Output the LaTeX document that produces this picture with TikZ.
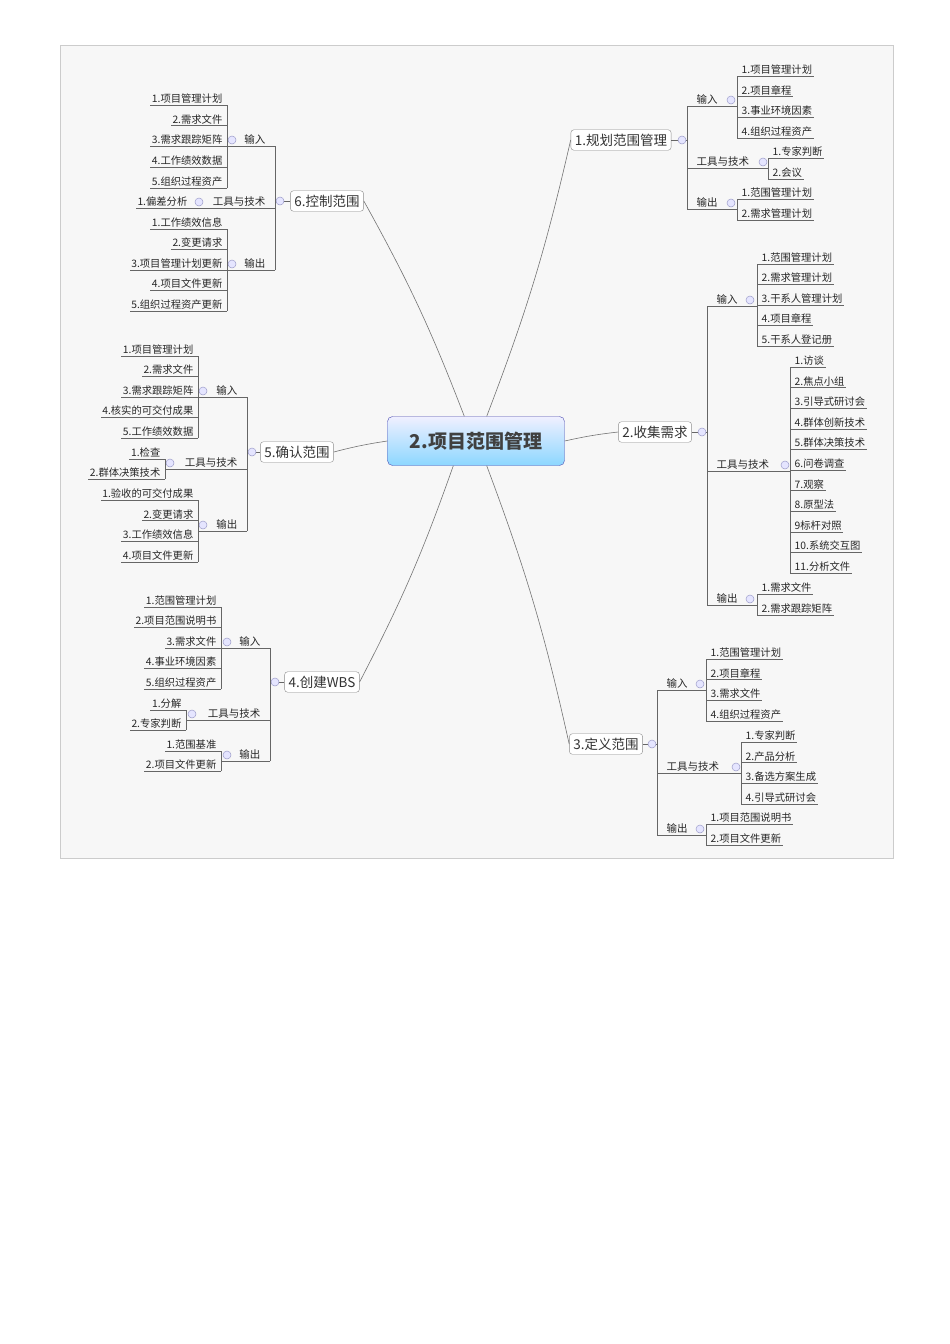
\documentclass[tikz,border=0pt]{standalone}
\usepackage{fontspec}
\setmainfont{Noto Sans CJK SC}
\usetikzlibrary{calc}
\tikzset{
 ln/.style={draw=black!60,line width=0.6pt},
 leaf/.style={inner sep=1.5pt,font=\fontsize{10.3}{11}\selectfont,text=black!85},
 grp/.style={inner sep=1.5pt,font=\fontsize{10.5}{11}\selectfont,text=black!85},
 tog/.style={circle,draw=blue!30!gray!60,fill=blue!10,minimum size=8pt,inner sep=0pt,line width=0.5pt},
 br/.style={draw=black!45,fill=white,rounded corners=3pt,font=\fontsize{13.5}{15}\selectfont,inner sep=4pt,text=black!80},
 con/.style={draw=black!55,line width=0.6pt}
}
\newcommand\leavesR[6]{%
 \draw[ln] (#2,#3+8)--(#2,{#3+(#5-1)*#4+8});
 \foreach \lbl [count=\i] in {#6}{
   \node[leaf,anchor=south west] (#1\i) at (#2+3,{#3+(\i-1)*#4+8}) {\lbl};
   \draw[ln] (#2,{#3+(\i-1)*#4+8}) -- (#1\i.south east);}}
\newcommand\leavesL[6]{%
 \draw[ln] (#2,#3+8)--(#2,{#3+(#5-1)*#4+8});
 \foreach \lbl [count=\i] in {#6}{
   \node[leaf,anchor=south east] (#1\i) at (#2-3,{#3+(\i-1)*#4+8}) {\lbl};
   \draw[ln] (#2,{#3+(\i-1)*#4+8}) -- (#1\i.south west);}}
\newcommand\groupR[6]{%
 \node[grp,anchor=south west] (#1) at (#2+8,#5+8) {#6};
 \draw[ln] (#2,#5+8) -- (#4,#5+8);
 \node[tog] (#1c) at (#3,#5+2) {};}
\newcommand\groupL[6]{%
 \node[grp,anchor=south east] (#1) at (#2-8,#5+8) {#6};
 \draw[ln] (#2,#5+8) -- (#4,#5+8);
 \node[tog] (#1c) at (#3,#5+2) {};}
\begin{document}
\begin{tikzpicture}[x=1pt,y=-1pt]
\useasboundingbox (0,0) rectangle (950,1344);
\fill[black!3,draw=black!20] (60,45) rectangle (893,858);
\node[draw=blue!40!gray,top color=blue!6,bottom color=blue!35!cyan!45,rounded corners=5pt,minimum width=177pt,minimum height=49pt,font=\fontsize{19}{21}\selectfont\bfseries,text=black!75] (c) at (476,441) {2.项目范围管理};
\node[br] (b1) at (621,140) {1.规划范围管理};
\node[br] (b2) at (655,432) {2.收集需求};
\node[br] (b3) at (606,744) {3.定义范围};
\node[br] (b4) at (322,682) {4.创建WBS};
\node[br] (b5) at (297,452) {5.确认范围};
\node[br] (b6) at (327,201) {6.控制范围};
\draw[con] ([xshift=-78pt]c.north east) to[bend right=4] (b1.west);
\draw[con] (c.east) to[bend left=3] (b2.west);
\draw[con] ([xshift=-78pt]c.south east) to[bend left=4] (b3.west);
\draw[con] ([xshift=66pt]c.south west) to[bend left=4] (b4.east);
\draw[con] (c.west) to[bend right=3] (b5.east);
\draw[con] ([xshift=77pt]c.north west) to[bend right=4] (b6.east);
% ---- branch 1
\draw[ln] (b1.east)--(687,140); \node[tog] (b1c) at (682,140) {};
\draw[ln] (687,106)--(687,209);
\groupR{g11}{687}{731}{737}{98}{输入}
\leavesR{l11}{737}{68}{20.7}{4}{1.项目管理计划,2.项目章程,3.事业环境因素,4.组织过程资产}
\groupR{g12}{687}{763}{768}{160}{工具与技术}
\leavesR{l12}{768}{150}{21}{2}{1.专家判断,2.会议}
\groupR{g13}{687}{731}{737}{201}{输出}
\leavesR{l13}{737}{191}{21}{2}{1.范围管理计划,2.需求管理计划}
% ---- branch 2
\draw[ln] (b2.east)--(707,432); \node[tog] (b2c) at (702,432) {};
\draw[ln] (707,306)--(707,605);
\groupR{g21}{707}{750}{757}{298}{输入}
\leavesR{l21}{757}{256}{20.5}{5}{1.范围管理计划,2.需求管理计划,3.干系人管理计划,4.项目章程,5.干系人登记册}
\groupR{g22}{707}{785}{790}{463}{工具与技术}
\leavesR{l22}{790}{359}{20.6}{11}{1.访谈,2.焦点小组,3.引导式研讨会,4.群体创新技术,5.群体决策技术,6.问卷调查,7.观察,8.原型法,9标杆对照,10.系统交互图,11.分析文件}
\groupR{g23}{707}{750}{757}{597}{输出}
\leavesR{l23}{757}{586}{21}{2}{1.需求文件,2.需求跟踪矩阵}
% ---- branch 3
\draw[ln] (b3.east)--(657,744); \node[tog] (b3c) at (652,744) {};
\draw[ln] (657,690)--(657,835);
\groupR{g31}{657}{700}{706}{682}{输入}
\leavesR{l31}{706}{651}{20.7}{4}{1.范围管理计划,2.项目章程,3.需求文件,4.组织过程资产}
\groupR{g32}{657}{736}{741}{765}{工具与技术}
\leavesR{l32}{741}{734}{20.7}{4}{1.专家判断,2.产品分析,3.备选方案生成,4.引导式研讨会}
\groupR{g33}{657}{700}{706}{827}{输出}
\leavesR{l33}{706}{816}{21}{2}{1.项目范围说明书,2.项目文件更新}
% ---- branch 6
\draw[ln] (b6.west)--(275,201); \node[tog] (b6c) at (280,201) {};
\draw[ln] (275,146)--(275,270);
\groupL{g61}{275}{232}{227}{138}{输入}
\leavesL{l61}{227}{97}{20.7}{5}{1.项目管理计划,2.需求文件,3.需求跟踪矩阵,4.工作绩效数据,5.组织过程资产}
\groupL{g62}{275}{199}{192}{200}{工具与技术}
\leavesL{l62}{192}{200}{0}{1}{1.偏差分析}
\groupL{g63}{275}{232}{227}{262}{输出}
\leavesL{l63}{227}{221}{20.5}{5}{1.工作绩效信息,2.变更请求,3.项目管理计划更新,4.项目文件更新,5.组织过程资产更新}
% ---- branch 5
\draw[ln] (b5.west)--(247,452); \node[tog] (b5c) at (252,452) {};
\draw[ln] (247,397)--(247,531);
\groupL{g51}{247}{203}{198}{389}{输入}
\leavesL{l51}{198}{348}{20.5}{5}{1.项目管理计划,2.需求文件,3.需求跟踪矩阵,4.核实的可交付成果,5.工作绩效数据}
\groupL{g52}{247}{170}{165}{461}{工具与技术}
\leavesL{l52}{165}{451}{20}{2}{1.检查,2.群体决策技术}
\groupL{g53}{247}{203}{198}{523}{输出}
\leavesL{l53}{198}{492}{20.7}{4}{1.验收的可交付成果,2.变更请求,3.工作绩效信息,4.项目文件更新}
% ---- branch 4
\draw[ln] (b4.west)--(270,682); \node[tog] (b4c) at (275,682) {};
\draw[ln] (270,648)--(270,761);
\groupL{g41}{270}{227}{221}{640}{输入}
\leavesL{l41}{221}{599}{20.5}{5}{1.范围管理计划,2.项目范围说明书,3.需求文件,4.事业环境因素,5.组织过程资产}
\groupL{g42}{270}{192}{186}{712}{工具与技术}
\leavesL{l42}{186}{702}{20}{2}{1.分解,2.专家判断}
\groupL{g43}{270}{227}{221}{753}{输出}
\leavesL{l43}{221}{743}{20}{2}{1.范围基准,2.项目文件更新}
\end{tikzpicture}
\end{document}
